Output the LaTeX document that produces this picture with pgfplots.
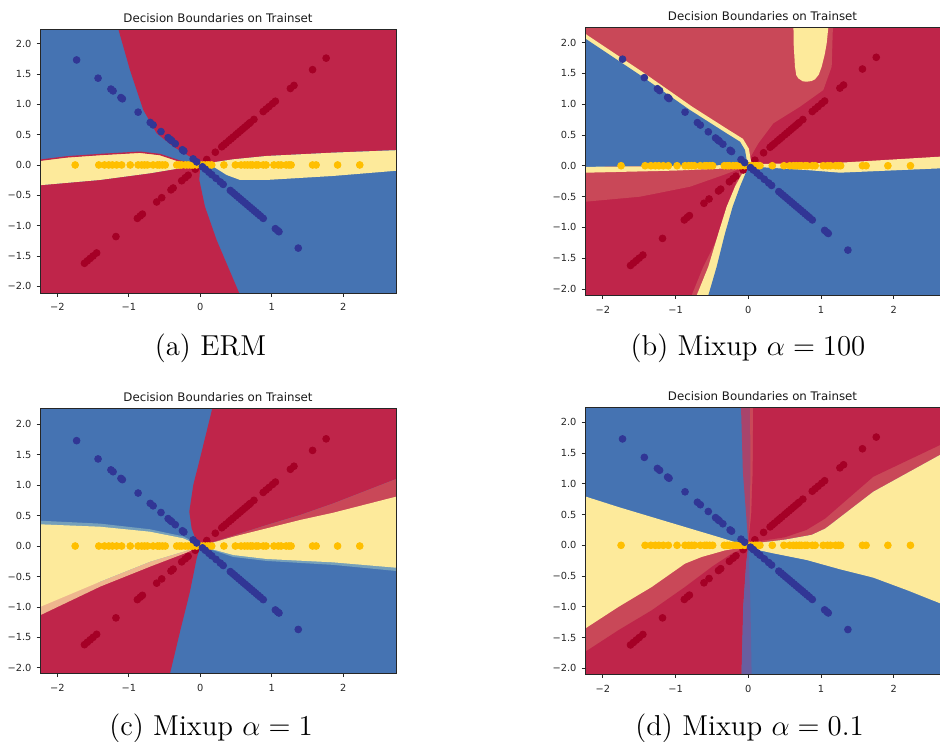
\documentclass[border=0pt]{standalone}
\usepackage{pgfplots}
\pgfplotsset{compat=1.18}
\usepackage{pgfplotstable}
\usepackage{fontspec}
\newfontfamily\dv{DejaVu Sans}
\newcommand\titlefont{\dv\fontsize{5.9}{7}\selectfont}
\newcommand\tickfont{\dv\fontsize{4.9}{6}\selectfont}

% region colours (RdYlBu, partly transparent) and point colours
\definecolor{cB}{RGB}{69,115,178}
\definecolor{cR}{RGB}{191,37,74}
\definecolor{cY}{RGB}{253,234,155}
\definecolor{cLR}{RGB}{201,72,88}
\definecolor{cOr}{RGB}{238,182,142}
\definecolor{cTeal}{RGB}{118,160,186}
\definecolor{cPuA}{RGB}{168,68,108}
\definecolor{cPuB}{RGB}{104,94,160}
\definecolor{dB}{RGB}{49,54,149}
\definecolor{dR}{RGB}{165,0,38}
\definecolor{dY}{RGB}{255,191,0}

% training points: class on y=x, class on y=-x, class on y=0
\pgfplotstableread{
x y
-1.62 -1.62
-1.58 -1.58
-1.54 -1.54
-1.50 -1.50
-1.45 -1.45
-1.18 -1.18
-0.88 -0.88
-0.84 -0.84
-0.81 -0.81
-0.61 -0.61
-0.54 -0.54
-0.41 -0.41
-0.38 -0.38
-0.26 -0.26
-0.21 -0.21
-0.17 -0.17
-0.07 -0.07
0.09 0.09
0.21 0.21
0.30 0.30
0.33 0.33
0.36 0.36
0.40 0.40
0.43 0.43
0.46 0.46
0.50 0.50
0.53 0.53
0.56 0.56
0.59 0.59
0.62 0.62
0.65 0.65
0.68 0.68
0.70 0.70
0.75 0.75
0.88 0.88
0.92 0.92
0.96 0.96
1.01 1.01
1.05 1.05
1.26 1.26
1.31 1.31
1.57 1.57
1.76 1.76
}\redpts

\pgfplotstableread{
x y
-1.73 1.73
-1.43 1.43
-1.25 1.25
-1.22 1.22
-1.11 1.11
-1.09 1.09
-0.87 0.87
-0.70 0.70
-0.66 0.66
-0.55 0.55
-0.45 0.45
-0.42 0.42
-0.40 0.40
-0.35 0.35
-0.25 0.25
-0.23 0.23
-0.10 0.10
-0.05 0.05
0.03 -0.03
0.07 -0.07
0.12 -0.12
0.16 -0.16
0.22 -0.22
0.28 -0.28
0.32 -0.32
0.42 -0.42
0.45 -0.45
0.48 -0.48
0.51 -0.51
0.54 -0.54
0.57 -0.57
0.60 -0.60
0.63 -0.63
0.66 -0.66
0.69 -0.69
0.72 -0.72
0.75 -0.75
0.78 -0.78
0.81 -0.81
0.84 -0.84
0.88 -0.88
1.05 -1.05
1.08 -1.08
1.10 -1.10
1.37 -1.37
}\bluepts

\pgfplotstableread{
x y
-1.75 0
-1.42 0
-1.34 0
-1.28 0
-1.23 0
-1.17 0
-1.10 0
-0.98 0
-0.87 0
-0.82 0
-0.78 0
-0.74 0
-0.66 0
-0.60 0
-0.57 0
-0.53 0
-0.49 0
-0.33 0
-0.29 0
-0.26 0
-0.21 0
-0.17 0
-0.13 0
-0.10 0
-0.05 0
0.01 0
0.05 0
0.09 0
0.12 0
0.16 0
0.33 0
0.49 0
0.57 0
0.62 0
0.66 0
0.70 0
0.73 0
0.78 0
0.81 0
0.88 0
0.92 0
1.03 0
1.09 0
1.13 0
1.20 0
1.24 0
1.27 0
1.57 0
1.62 0
1.92 0
2.23 0
}\yellowpts

\pgfplotsset{
  dbaxis/.style={
    scale only axis,
    anchor=south west,
    axis on top,
    xmin=-2.242, ymin=-2.11, ymax=2.24,
    xtick={-2,-1,0,1,2},
    xticklabels={−2,−1,0,1,2},
    ytick={-2,-1.5,-1,-0.5,0,0.5,1,1.5,2},
    yticklabels={−2.0,−1.5,−1.0,−0.5,0.0,0.5,1.0,1.5,2.0},
    tick align=outside, tick pos=left,
    major tick length=1.75pt,
    every tick/.style={black!85, line width=0.4pt},
    axis line style={black!85, line width=0.4pt},
    ticklabel style={font=\tickfont, text=black!85},
    yticklabel style={xshift=1pt},
    title={Decision Boundaries on Trainset},
    every axis title/.style={at={(0.5,1)}, anchor=base, yshift=3.3pt, font=\titlefont, text=black!90},
  },
  cutaxis/.style={
    axis y line*=left, y axis line style={-},
  },
  region/.style={fill=#1, draw=none},
  pts/.style={only marks, mark=*, mark size=1.7pt, color=#1, mark options={draw=#1, fill=#1}},
}

\newcommand\drawpoints{%
  \addplot[pts=dR] table {\redpts};
  \addplot[pts=dY] table {\yellowpts};
  \addplot[pts=dB] table {\bluepts};
}

\begin{document}
\begin{tikzpicture}
\path[use as bounding box] (0,0) rectangle (470pt,-370.5pt);

% ---------------- (a) ERM ----------------
\begin{axis}[dbaxis, at={(20pt,-146.5pt)}, width=178pt, height=132pt, xmax=2.737]
\addplot[region=cB] coordinates {(-3,-3) (3,-3) (3,3) (-3,3)} -- cycle;
\addplot[region=cR] coordinates {(-1.16,2.5) (-1.147,2.24) (-0.984,1.565) (-0.797,0.906) (-0.611,0.522) (-0.378,0.302) (-0.145,0.137) (0,0) (0.182,0.044) (0.462,0.093) (0.928,0.148) (1.86,0.203) (2.9,0.255) (2.9,2.5)} -- cycle;
\addplot[region=cR] coordinates {(-2.4,-0.35) (-1.403,-0.247) (-0.704,-0.137) (-0.284,-0.055) (-0.05,-0.016) (0,0) (-0.014,-0.247) (0.065,-0.686) (0.228,-1.236) (0.545,-2.114) (0.6,-2.4) (-2.4,-2.4)} -- cycle;
\addplot[region=cY] coordinates {(-2.4,0.065) (-2.242,0.071) (-1.869,0.126) (-1.403,0.165) (-0.844,0.203) (-0.564,0.165) (-0.284,0.055) (-0.05,0.0) (0,0) (-0.05,-0.016) (-0.284,-0.055) (-0.704,-0.137) (-1.403,-0.247) (-2.4,-0.35)} -- cycle;
\addplot[cR, line width=0.7pt] coordinates {(-2.4,0.072) (-2.242,0.078) (-1.869,0.133) (-1.403,0.172) (-0.844,0.21) (-0.564,0.172) (-0.284,0.062) (-0.06,0.006)};
\addplot[region=cY] coordinates {(0,0) (0.182,0.044) (0.462,0.093) (0.928,0.148) (1.86,0.203) (2.9,0.25) (2.9,-0.08) (1.86,-0.181) (0.928,-0.247) (0.555,-0.247) (0.368,-0.165) (0.182,-0.027)} -- cycle;
\drawpoints
\end{axis}

% ---------------- (b) Mixup alpha = 100 ----------------
\begin{axis}[dbaxis, cutaxis, at={(292.5pt,-147.65pt)}, width=177.5pt, height=134pt, xmin=-2.246, xmax=2.637, ymin=-2.104, ymax=2.247]
\addplot[region=cR] coordinates {(-3,-3) (3,-3) (3,3) (-3,3)} -- cycle;
\addplot[region=cLR] coordinates {(-2.4,2.5) (-2.4,2.19) (-2.246,2.067) (-1.49,1.472) (-0.802,0.904) (-0.298,0.525) (-0.114,0.39) (-0.045,0.255) (-0.022,0.093) (0,0.01) (0.033,0.147) (0.138,0.363) (0.344,0.688) (0.711,0.958) (1.032,1.229) (1.147,1.608) (1.17,2.5)} -- cycle;
\addplot[region=cY] coordinates {(0.619,2.4) (0.625,1.95) (0.642,1.608) (0.66,1.47) (0.688,1.418) (0.75,1.37) (0.802,1.364) (0.87,1.375) (0.917,1.402) (0.97,1.48) (1.009,1.608) (1.05,1.8) (1.078,1.986) (1.114,2.4)} -- cycle;
\addplot[cY, line width=4pt] coordinates {(-2.4,2.19) (-2.246,2.067) (-1.49,1.472) (-0.802,0.904) (-0.298,0.525) (-0.114,0.39) (-0.045,0.255) (-0.022,0.093) (0,0.01)};
\addplot[region=cB] coordinates {(-2.4,-0.03) (-2.4,2.19) (-2.246,2.067) (-1.49,1.472) (-0.802,0.904) (-0.298,0.525) (-0.114,0.39) (-0.045,0.255) (-0.022,0.093) (0,0.01) (-0.3,0.005) (-1,-0.005) (-2.246,-0.02)} -- cycle;
\addplot[region=cLR] coordinates {(-2.4,-0.11) (-1.03,-0.075) (-0.114,-0.03) (0,0) (-0.344,-0.151) (-0.802,-0.341) (-1.49,-0.503) (-2.246,-0.585) (-2.4,-0.59)} -- cycle;
\addplot[region=cY] coordinates {(-2.4,-0.02) (-1,-0.005) (-0.3,0.01) (0,0.02) (-0.114,-0.035) (-1.03,-0.08) (-2.4,-0.118)} -- cycle;
\addplot[region=cLR] coordinates {(0,0) (-0.114,-0.07) (-0.389,-1.098) (-0.619,-1.639) (-0.779,-2.105) (-0.8,-2.4) (2.9,-2.4) (2.9,0)} -- cycle;
\addplot[region=cY] coordinates {(0,0) (-0.045,-0.043) (-0.183,-0.34) (-0.298,-0.665) (-0.412,-1.098) (-0.55,-1.639) (-0.71,-2.105) (-0.73,-2.4) (2.9,-2.4) (2.9,0)} -- cycle;
\addplot[region=cB] coordinates {(0,0) (0,-0.016) (-0.114,-0.34) (-0.215,-0.665) (-0.32,-1.098) (-0.435,-1.639) (-0.55,-2.105) (-0.57,-2.4) (2.9,-2.4) (2.9,0)} -- cycle;
\addplot[region=cY] coordinates {(0,0.01) (0.069,0.028) (1.261,0.049) (2.637,0.147) (2.9,0.16) (2.9,-0.04) (2.637,-0.043) (1.261,-0.113) (0.803,-0.07) (0.069,-0.016)} -- cycle;
\drawpoints
\end{axis}

% ---------------- (c) Mixup alpha = 1 ----------------
\begin{axis}[dbaxis, at={(20pt,-336.85pt)}, width=178pt, height=132.7pt, xmax=2.737, ymin=-2.097, ymax=2.261]
\addplot[region=cB] coordinates {(-3,-3) (3,-3) (3,3) (-3,3)} -- cycle;
\addplot[region=cR] coordinates {(0.19,2.5) (0.168,2.26) (0.019,1.549) (-0.098,1.002) (-0.154,0.564) (-0.121,0.29) (-0.051,0.071) (0,0) (0.462,0.17) (0.928,0.345) (1.394,0.509) (1.86,0.70) (2.737,1.10) (2.9,1.16) (2.9,2.5)} -- cycle;
\addplot[region=cLR] coordinates {(0,0) (0.462,0.17) (0.928,0.345) (1.394,0.509) (1.86,0.70) (2.737,1.10) (2.9,1.16) (2.9,0) } -- cycle;
\addplot[region=cTeal] coordinates {(0,0) (0.928,-0.18) (1.86,-0.24) (2.737,-0.33) (2.9,-0.34) (2.9,-0.43) (2.737,-0.41) (1.86,-0.31) (0.928,-0.245) (0.462,-0.18)} -- cycle;
\addplot[region=cY] coordinates {(0,0) (0.089,0.027) (0.462,0.153) (0.928,0.29) (1.394,0.427) (1.86,0.547) (2.737,0.81) (2.9,0.86) (2.9,-0.37) (2.737,-0.356) (1.86,-0.268) (0.928,-0.213) (0.462,-0.148) (0.089,-0.027)} -- cycle;
\addplot[region=cR] coordinates {(-2.4,0) (0,0) (-0.051,-0.203) (-0.145,-0.75) (-0.284,-1.407) (-0.424,-2.096) (-0.44,-2.4) (-2.4,-2.4)} -- cycle;
\addplot[region=cOr] coordinates {(0,0) (-0.014,-0.016) (-0.191,-0.109) (-0.704,-0.339) (-1.403,-0.668) (-2.233,-1.133) (-2.4,-1.22) (-2.4,0.35) (-1.403,0.317) (-0.704,0.235) (-0.238,0.126)} -- cycle;
\addplot[region=cTeal] coordinates {(0,0) (-0.051,0.045) (-0.238,0.158) (-0.704,0.275) (-1.403,0.368) (-2.233,0.415) (-2.4,0.42) (-2.4,-0.9) (-1.403,-0.586) (-0.704,-0.257) (-0.238,-0.093)} -- cycle;
\addplot[region=cY] coordinates {(0,0) (-0.051,0.027) (-0.238,0.126) (-0.704,0.235) (-1.403,0.317) (-2.233,0.356) (-2.4,0.36) (-2.4,-1.07) (-2.233,-0.996) (-1.403,-0.586) (-0.704,-0.257) (-0.238,-0.093) (-0.028,-0.011)} -- cycle;
\drawpoints
\end{axis}

% ---------------- (d) Mixup alpha = 0.1 ----------------
\begin{axis}[dbaxis, cutaxis, at={(292.5pt,-337.15pt)}, width=177.5pt, height=133.5pt, xmin=-2.246, xmax=2.637, ymin=-2.098, ymax=2.244]
\addplot[region=cB] coordinates {(-3,-3) (3,-3) (3,3) (-3,3)} -- cycle;
\addplot[region=cPuA] coordinates {(-0.1,2.5) (-0.1,2.244) (-0.075,1.2) (-0.03,0.5) (0,0.03) (0.03,0.5) (0.04,1.2) (0.03,2.5)} -- cycle;
\addplot[region=cLR] coordinates {(0.023,2.5) (0.03,1.2) (0.02,0.5) (0,0.03) (0.046,0.027) (0.505,0.092) (0.872,0.17) (1.055,0.27) (1.124,0.33) (1.72,0.872) (2.637,1.47) (2.9,1.6) (2.9,2.5)} -- cycle;
\addplot[region=cR] coordinates {(0.069,2.5) (0.06,1.2) (0.04,0.5) (0,0.05) (0.05,0.05) (0.5,0.13) (0.8,0.25) (1.055,0.433) (1.72,1.116) (2.637,1.631) (2.9,1.75) (2.9,2.5)} -- cycle;
\addplot[region=cY] coordinates {(0,0) (0.046,0.027) (0.505,0.092) (0.872,0.17) (1.055,0.27) (1.124,0.33) (1.72,0.872) (2.637,1.47) (2.9,1.6) (2.9,-1.0) (2.637,-0.943) (2.178,-0.727) (1.72,-0.526) (1.262,-0.39) (0.803,-0.239) (0.344,-0.131) (0.069,-0.06)} -- cycle;
\addplot[region=cLR] coordinates {(-2.4,0) (0,0) (-0.03,-0.3) (-0.07,-1.0) (-0.1,-2.4) (-2.4,-2.4)} -- cycle;
\addplot[region=cR] coordinates {(-2.4,-1.85) (-2.246,-1.734) (-1.788,-1.382) (-1.329,-1.057) (-0.871,-0.678) (-0.504,-0.352) (-0.229,-0.136) (-0.045,-0.038) (0,0) (-0.03,-0.3) (-0.07,-1.0) (-0.1,-2.4) (-2.4,-2.4)} -- cycle;
\addplot[region=cY] coordinates {(0,0) (-0.022,0) (-0.138,0.037) (-0.413,0.136) (-0.871,0.298) (-1.329,0.46) (-1.788,0.623) (-2.246,0.796) (-2.4,0.85) (-2.4,-1.45) (-2.246,-1.355) (-1.788,-1.003) (-1.329,-0.678) (-0.871,-0.298) (-0.642,-0.19) (-0.321,-0.082) (-0.045,-0.028)} -- cycle;
\addplot[region=cPuB] coordinates {(0,0) (-0.03,-0.3) (-0.07,-1.0) (-0.1,-2.4) (0.05,-2.4) (0.03,-1.0) (0.01,-0.3)} -- cycle;
\drawpoints
\end{axis}

% sub-figure captions
\begin{scope}[every node/.style={anchor=base, inner sep=0pt, font=\fontsize{14.4}{17}\selectfont}]
\node at (105.25pt,-177.5pt) {(a) ERM};
\node at (374pt,-177.5pt) {(b) Mixup $\alpha = 100$};
\node at (105.5pt,-367.5pt) {(c) Mixup $\alpha = 1$};
\node at (374.75pt,-367.5pt) {(d) Mixup $\alpha = 0.1$};
\end{scope}
\end{tikzpicture}
\end{document}
